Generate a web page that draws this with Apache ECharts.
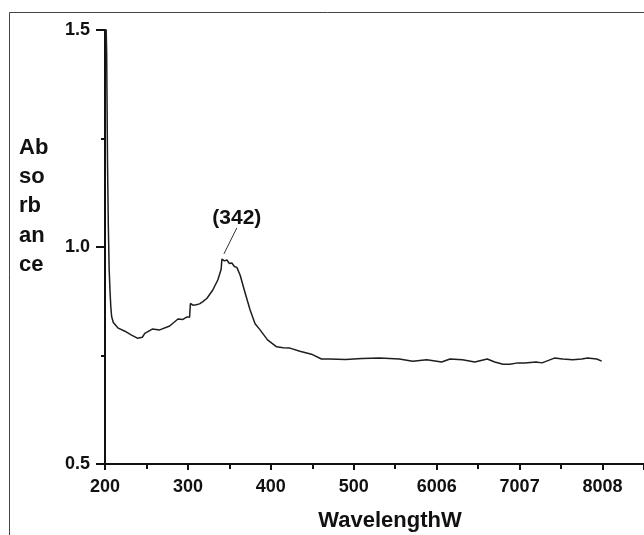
<!DOCTYPE html>
<html>
<head>
<meta charset="utf-8">
<script src="https://cdn.jsdelivr.net/npm/echarts@6.0.0/dist/echarts.min.js"></script>
<style>
html,body{margin:0;padding:0;background:#fff;}
#chart{width:644px;height:535px;}
</style>
</head>
<body>
<div id="chart"></div>
<script>
// Wavelength (nm)
var wavelengths = [
  200, 202, 203, 204, 205, 206, 207, 208, 210, 212,
  216, 224, 232, 239, 245, 248, 257, 266, 278, 288,
  294, 299, 302, 303, 306, 310, 314, 318, 323, 330,
  336, 340, 341, 344, 347, 350, 353, 356, 359, 363,
  369, 375, 381, 387, 396, 407, 415, 423, 435, 449,
  461, 471, 490, 510, 531, 555, 571, 588, 606, 616,
  631, 646, 661, 670, 680, 688, 698, 706, 720, 727,
  742, 752, 764, 775, 782, 793, 799
];
// Absorbance
var absorbance = [
  1.62, 1.45, 1.20, 1.05, 0.95, 0.90, 0.862, 0.840, 0.826, 0.822,
  0.813, 0.806, 0.797, 0.790, 0.792, 0.801, 0.811, 0.809, 0.818, 0.834,
  0.833, 0.839, 0.838, 0.870, 0.866, 0.867, 0.869, 0.874, 0.882, 0.901,
  0.924, 0.948, 0.972, 0.968, 0.970, 0.962, 0.963, 0.955, 0.953, 0.935,
  0.894, 0.855, 0.823, 0.809, 0.786, 0.770, 0.768, 0.767, 0.760, 0.753,
  0.742, 0.742, 0.741, 0.743, 0.744, 0.742, 0.737, 0.740, 0.735, 0.742,
  0.740, 0.735, 0.742, 0.735, 0.730, 0.730, 0.733, 0.733, 0.735, 0.733,
  0.744, 0.742, 0.740, 0.742, 0.744, 0.742, 0.737
];
// X tick labels as printed
var xTickValues = [200, 300, 400, 500, 600, 700, 800];
var xTickLabels = ['200', '300', '400', '500', '6006', '7007', '8008'];
// Peak annotation
var peakText = '(342)';
var peakTextAt = [359, 1.067];
var peakLeader = [[343.4, 0.984], [359, 1.044]];

var seriesData = wavelengths.map(function (w, i) { return [w, absorbance[i]]; });

var font = '"Liberation Sans", Arial, Helvetica, sans-serif';
var chart = echarts.init(document.getElementById('chart'), null, {renderer: 'canvas'});

chart.setOption({
  animation: false,
  backgroundColor: '#fff',
  grid: {left: 105, top: 30, width: 539.5, bottom: 71, containLabel: false},
  xAxis: {
    type: 'value', min: 200, max: 850, interval: 100,
    axisLine: {show: true, lineStyle: {color: '#111', width: 2}},
    axisTick: {show: true, length: 6, lineStyle: {color: '#111', width: 2}},
    minorTick: {show: true, splitNumber: 2, length: 5, lineStyle: {color: '#111', width: 2}},
    splitLine: {show: false},
    axisLabel: {
      margin: 14, color: '#111', fontSize: 18, fontWeight: 'bold', fontFamily: font,
      showMaxLabel: false,
      formatter: function (v) {
        var i = xTickValues.indexOf(v);
        return i >= 0 ? xTickLabels[i] : '';
      }
    }
  },
  yAxis: {
    type: 'value', min: 0.5, max: 1.5, interval: 0.5,
    axisLine: {show: true, lineStyle: {color: '#111', width: 2}},
    axisTick: {show: true, length: 9, lineStyle: {color: '#111', width: 2}},
    minorTick: {show: true, splitNumber: 2, length: 4, lineStyle: {color: '#111', width: 2}},
    splitLine: {show: false},
    axisLabel: {
      margin: 15, color: '#111', fontSize: 18, fontWeight: 'bold', fontFamily: font,
      formatter: function (v) { return v.toFixed(1); }
    }
  },
  series: [{
    type: 'line',
    data: seriesData,
    showSymbol: false,
    symbol: 'none',
    clip: true,
    lineStyle: {color: '#1e1e1e', width: 1.5},
    markLine: {
      silent: true,
      symbol: ['none', 'none'],
      lineStyle: {color: '#333', width: 1, type: 'solid'},
      label: {show: false},
      data: [[{coord: peakLeader[0]}, {coord: peakLeader[1]}]]
    },
    markPoint: {
      silent: true,
      symbol: 'circle',
      symbolSize: 0,
      label: {
        show: true, position: 'inside', formatter: peakText,
        color: '#111', fontSize: 21, fontWeight: 'bold', fontFamily: font
      },
      data: [{coord: peakTextAt}]
    }
  }],
  graphic: [
    {
      type: 'rect', silent: true, z: -1,
      shape: {x: 9.5, y: 12.5, width: 700, height: 600},
      style: {fill: 'none', stroke: '#444', lineWidth: 1}
    },
    {
      type: 'text', silent: true, left: 19, top: 133,
      style: {
        text: 'Ab\nso\nrb\nan\nce', fill: '#111',
        font: 'bold 22px ' + font, lineHeight: 29.3
      }
    },
    {
      type: 'text', silent: true, x: 390, y: 520.5,
      style: {
        text: 'WavelengthW', fill: '#111', align: 'center', verticalAlign: 'middle',
        font: 'bold 22px ' + font
      }
    }
  ]
});
</script>
</body>
</html>
